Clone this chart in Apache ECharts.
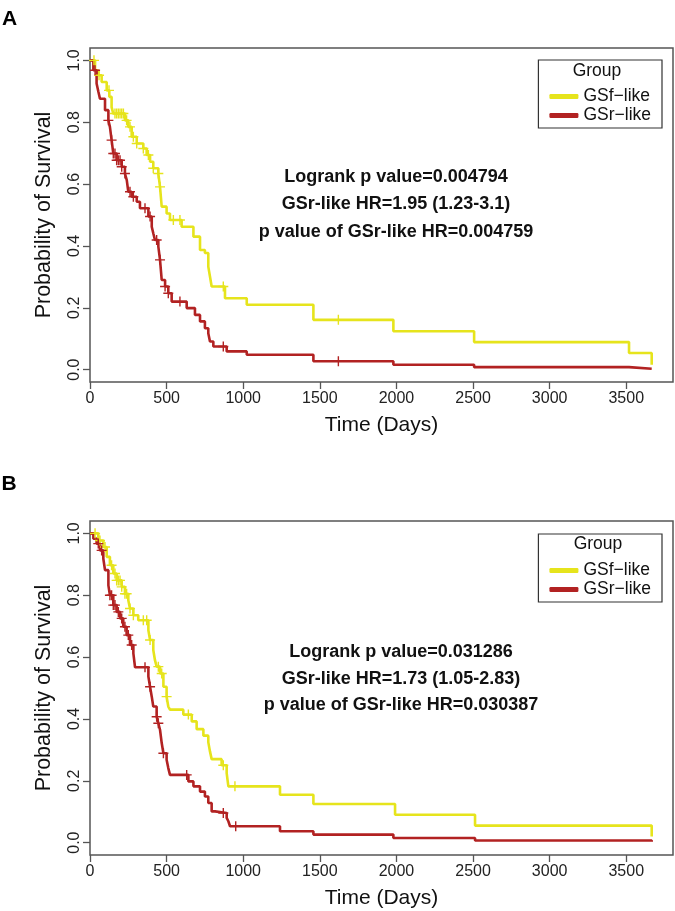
<!DOCTYPE html>
<html>
<head>
<meta charset="utf-8">
<script src="https://cdn.jsdelivr.net/npm/echarts@6/dist/echarts.min.js"></script>
<style>
html,body{margin:0;padding:0;background:#fff;}
#chart{width:675px;height:911px;}
</style>
</head>
<body>
<div id="chart"></div>
<script>
// ---------------- DATA ----------------
const groupNames = ['GSf\u2212like', 'GSr\u2212like'];
const xTicks = [0, 500, 1000, 1500, 2000, 2500, 3000, 3500];
const yTicks = [0, 0.2, 0.4, 0.6, 0.8, 1.0];

// Panel A – GSf-like (yellow) step curve
const timeA_f = [0, 33, 54, 76, 109, 126, 141, 152, 228, 250, 272, 305, 348, 370, 392, 413, 446, 457, 468, 500, 522, 598, 675, 718, 750, 772, 783, 794, 881, 1023, 1458, 1980, 2507, 3518, 3666];
const survA_f = [1.0, 0.968, 0.952, 0.93, 0.903, 0.882, 0.849, 0.828, 0.806, 0.785, 0.753, 0.731, 0.715, 0.694, 0.672, 0.651, 0.634, 0.591, 0.527, 0.505, 0.484, 0.462, 0.43, 0.387, 0.377, 0.333, 0.301, 0.269, 0.231, 0.21, 0.161, 0.124, 0.089, 0.054, 0.016];
const censTimeA_f = [26, 59, 124, 163, 174, 185, 196, 207, 218, 239, 261, 283, 305, 348, 381, 413, 446, 457, 544, 587, 870, 1621];
const censSurvA_f = [1.0, 0.952, 0.903, 0.828, 0.828, 0.828, 0.828, 0.828, 0.828, 0.806, 0.785, 0.753, 0.731, 0.715, 0.694, 0.651, 0.634, 0.591, 0.484, 0.484, 0.269, 0.161];

// Panel A – GSr-like (red) step curve
const timeA_r = [0, 22, 43, 54, 65, 98, 120, 130, 141, 152, 174, 207, 228, 240, 250, 272, 305, 326, 381, 403, 413, 424, 446, 457, 468, 490, 511, 533, 631, 685, 718, 750, 772, 783, 805, 892, 1023, 1458, 1980, 2507, 3518, 3666];
const survA_r = [1.0, 0.968, 0.925, 0.9, 0.876, 0.839, 0.806, 0.785, 0.742, 0.699, 0.677, 0.656, 0.634, 0.613, 0.575, 0.559, 0.543, 0.522, 0.495, 0.462, 0.441, 0.419, 0.398, 0.355, 0.29, 0.269, 0.247, 0.22, 0.199, 0.177, 0.156, 0.134, 0.118, 0.091, 0.075, 0.059, 0.048, 0.027, 0.016, 0.008, 0.003, 0.001];
const censTimeA_r = [33, 120, 141, 152, 163, 174, 185, 196, 207, 228, 261, 283, 359, 392, 435, 457, 490, 511, 587, 870, 1621];
const censSurvA_r = [0.968, 0.806, 0.742, 0.699, 0.699, 0.677, 0.677, 0.677, 0.656, 0.634, 0.575, 0.559, 0.522, 0.495, 0.419, 0.355, 0.269, 0.247, 0.22, 0.075, 0.027];

// Panel B – GSf-like (yellow)
const timeB_f = [0, 54, 87, 109, 130, 152, 174, 207, 228, 250, 261, 283, 315, 381, 392, 413, 424, 435, 457, 479, 500, 511, 522, 609, 664, 696, 740, 772, 783, 794, 859, 892, 903, 1240, 1458, 1991, 2513, 3666];
const survB_f = [1.0, 0.977, 0.956, 0.924, 0.897, 0.87, 0.848, 0.827, 0.805, 0.784, 0.757, 0.735, 0.719, 0.687, 0.655, 0.623, 0.59, 0.569, 0.547, 0.504, 0.472, 0.44, 0.43, 0.414, 0.392, 0.367, 0.346, 0.325, 0.295, 0.27, 0.25, 0.225, 0.182, 0.155, 0.125, 0.09, 0.055, 0.02];
const censTimeB_f = [33, 65, 98, 141, 163, 174, 185, 196, 207, 228, 239, 261, 283, 348, 370, 392, 446, 468, 500, 642, 870, 946];
const censSurvB_f = [1.0, 0.977, 0.956, 0.897, 0.87, 0.848, 0.848, 0.848, 0.827, 0.805, 0.805, 0.757, 0.735, 0.719, 0.719, 0.655, 0.569, 0.547, 0.472, 0.414, 0.25, 0.182];

// Panel B – GSr-like (red)
const timeB_r = [0, 22, 43, 65, 87, 98, 120, 130, 152, 174, 196, 217, 239, 261, 283, 294, 381, 392, 403, 413, 435, 446, 457, 468, 479, 500, 511, 522, 642, 675, 718, 750, 772, 794, 816, 892, 903, 914, 1240, 1458, 1980, 2513, 3666];
const survB_r = [1.0, 0.983, 0.967, 0.945, 0.918, 0.881, 0.832, 0.80, 0.768, 0.746, 0.725, 0.698, 0.671, 0.639, 0.612, 0.567, 0.537, 0.504, 0.472, 0.44, 0.407, 0.386, 0.365, 0.322, 0.289, 0.268, 0.241, 0.219, 0.198, 0.182, 0.165, 0.149, 0.128, 0.101, 0.096, 0.08, 0.069, 0.053, 0.037, 0.026, 0.015, 0.007, 0.003];
const censTimeB_r = [54, 76, 130, 141, 152, 163, 185, 207, 228, 250, 272, 359, 392, 435, 446, 479, 631, 870, 951];
const censSurvB_r = [0.967, 0.945, 0.80, 0.80, 0.768, 0.768, 0.746, 0.725, 0.698, 0.671, 0.639, 0.567, 0.504, 0.407, 0.386, 0.289, 0.219, 0.096, 0.053];

const statsA = ['Logrank p value=0.004794', 'GSr-like HR=1.95 (1.23-3.1)', 'p value of GSr-like HR=0.004759'];
const statsB = ['Logrank p value=0.031286', 'GSr-like HR=1.73 (1.05-2.83)', 'p value of GSr-like HR=0.030387'];

// ---------------- STYLE ----------------
const FONT = '"Liberation Sans", Arial, Helvetica, sans-serif';
const YELLOW = '#e6e41c';
const RED = '#b22222';
const zip = (a, b) => a.map((v, i) => [v, b[i]]);
const CROSS = 'path://M0,5H10M5,0V10';

const chart = echarts.init(document.getElementById('chart'), null, {renderer: 'canvas'});

const panelTops = [48, 521];

function gridDef(top) {
  return {left: 90, top: top, width: 583, height: 334, show: true, borderColor: '#555', borderWidth: 1.5, backgroundColor: 'transparent'};
}
function xAxisDef(i) {
  return {
    gridIndex: i, type: 'value', min: 0, max: 3805,
    name: 'Time (Days)', nameLocation: 'middle', nameGap: 33,
    nameTextStyle: {fontFamily: FONT, fontSize: 21, color: '#111'},
    axisLine: {show: false, onZero: false},
    axisTick: {show: true, length: 7, lineStyle: {color: '#555', width: 1.3}, customValues: xTicks},
    axisLabel: {fontFamily: FONT, fontSize: 16, color: '#222', margin: 9, customValues: xTicks,
      formatter: v => String(Math.round(v))},
    splitLine: {show: false}
  };
}
function yAxisDef(i) {
  return {
    gridIndex: i, type: 'value', min: -0.04, max: 1.04,
    name: 'Probability of Survival', nameLocation: 'middle', nameGap: 35, nameRotate: 90,
    nameTextStyle: {fontFamily: FONT, fontSize: 21.5, color: '#111'},
    axisLine: {show: false, onZero: false},
    axisTick: {show: true, length: 7, lineStyle: {color: '#555', width: 1.3}, customValues: yTicks},
    axisLabel: {fontFamily: FONT, fontSize: 16, color: '#222', margin: 7, rotate: 90,
      customValues: yTicks, formatter: v => Number(v).toFixed(1)},
    splitLine: {show: false}
  };
}
function lineSeries(name, i, t, s, color) {
  return {
    name: name, type: 'line', xAxisIndex: i, yAxisIndex: i, step: 'end',
    data: zip(t, s), showSymbol: false, symbol: 'none', color: color,
    lineStyle: {color: color, width: 2.6}, itemStyle: {color: color},
    animation: false, z: 3
  };
}
function censSeries(name, i, t, s, color) {
  return {
    name: name, type: 'scatter', xAxisIndex: i, yAxisIndex: i,
    data: zip(t, s), symbol: CROSS, symbolSize: 10,
    itemStyle: {color: 'none', borderColor: color, borderWidth: 1.4, opacity: 1},
    animation: false, z: 4
  };
}
function legendDef(top) {
  return {
    orient: 'vertical', right: 13, top: top, data: groupNames,
    icon: 'roundRect', itemWidth: 29, itemHeight: 5, itemGap: 0,
    padding: [27, 11, 3, 11], borderColor: '#333', borderWidth: 1.2,
    selectedMode: false,
    textStyle: {fontFamily: FONT, fontSize: 17.5, color: '#111', lineHeight: 19}
  };
}
function statText(lines, cx, y0, gap) {
  return lines.map((ln, k) => ({
    type: 'text', x: cx, y: y0 + k * gap,
    style: {text: ln, fontFamily: FONT, fontSize: 18, fontWeight: 'bold', fill: '#111', align: 'center', verticalAlign: 'middle'}
  }));
}

const option = {
  backgroundColor: '#fff',
  animation: false,
  grid: [gridDef(panelTops[0]), gridDef(panelTops[1])],
  xAxis: [xAxisDef(0), xAxisDef(1)],
  yAxis: [yAxisDef(0), yAxisDef(1)],
  legend: [legendDef(60), legendDef(534)],
  series: [
    lineSeries(groupNames[0], 0, timeA_f, survA_f, YELLOW),
    lineSeries(groupNames[1], 0, timeA_r, survA_r, RED),
    censSeries('GSf censored A', 0, censTimeA_f, censSurvA_f, YELLOW),
    censSeries('GSr censored A', 0, censTimeA_r, censSurvA_r, RED),
    lineSeries(groupNames[0], 1, timeB_f, survB_f, YELLOW),
    lineSeries(groupNames[1], 1, timeB_r, survB_r, RED),
    censSeries('GSf censored B', 1, censTimeB_f, censSurvB_f, YELLOW),
    censSeries('GSr censored B', 1, censTimeB_r, censSurvB_r, RED)
  ],
  graphic: [
    {type: 'text', x: 9.5, y: 19, style: {text: 'A', fontFamily: FONT, fontSize: 21, fontWeight: 'bold', fill: '#000', align: 'center', verticalAlign: 'middle'}},
    {type: 'text', x: 9, y: 484, style: {text: 'B', fontFamily: FONT, fontSize: 21, fontWeight: 'bold', fill: '#000', align: 'center', verticalAlign: 'middle'}},
    {type: 'text', x: 597, y: 71, style: {text: 'Group', fontFamily: FONT, fontSize: 17.5, fill: '#111', align: 'center', verticalAlign: 'middle'}},
    {type: 'text', x: 598, y: 544, style: {text: 'Group', fontFamily: FONT, fontSize: 17.5, fill: '#111', align: 'center', verticalAlign: 'middle'}}
  ].concat(statText(statsA, 396, 177, 27.5)).concat(statText(statsB, 401, 652, 26.7))
};
chart.setOption(option);
</script>
</body>
</html>
